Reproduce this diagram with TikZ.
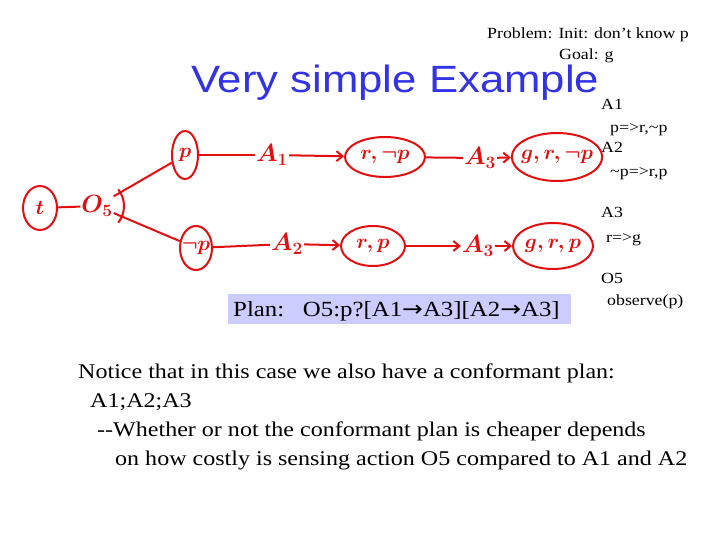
\documentclass[tikz,border=0pt]{standalone}
\usepackage{fontspec}
\setmainfont[FakeStretch=1.15]{Liberation Serif}
\newfontfamily\titlefont[FakeStretch=1.15]{Liberation Sans}
\newfontfamily\arrowfont[FakeStretch=1.15]{DejaVu Sans}
\usepackage{amssymb}
\usetikzlibrary{shapes.geometric,arrows.meta}
\definecolor{inkred}{RGB}{225,15,15}
\definecolor{titleblue}{RGB}{51,51,230}
\definecolor{planbg}{RGB}{204,204,255}

\begin{document}
\begin{tikzpicture}[x=1pt,y=-1pt,
		ink/.style={draw=inkred, line width=2pt},
		state/.style={ellipse, ink, text=inkred, inner sep=-4pt, font=\boldmath\fontsize{20}{20}\selectfont},
		act/.style={text=inkred, inner sep=1pt, font=\boldmath\fontsize{23}{23}\selectfont},
		txt/.style={anchor=base west, inner sep=0pt, font=\fontsize{15.5}{18}\selectfont},
		big/.style={anchor=base west, inner sep=0pt, font=\fontsize{20.9}{24}\selectfont},
		go/.style={ink, -{Straight Barb[length=6pt,width=10pt]}}]
		\useasboundingbox (0,0) rectangle (720,540);
		% title and problem
		\node[txt] (prob) at (487,39) {Problem: Init: don't know p};
		\node[txt] (goal) at (559,60) {Goal: g};
		\node[anchor=base west, inner sep=0pt, text=titleblue, font=\titlefont\fontsize{38}{38}\selectfont] (title) at (191,93) {Very simple Example};
		% actions
		\node[txt] (a1t) at (601,110) {A1};
		\node[txt] (a1d) at (610,133) {p=>r,\textasciitilde p};
		\node[txt] (a2t) at (601,153) {A2};
		\node[txt] (a2d) at (610,177) {\textasciitilde p=>r,p};
		\node[txt] (a3t) at (601,218) {A3};
		\node[txt] (a3d) at (606,242) {r=>g};
		\node[txt] (o5t) at (601,283) {O5};
		\node[txt] (o5d) at (607,305) {observe(p)};
		% the tree
		\node[state, minimum width=34, minimum height=44] (t) at (40,208) {$t$};
		\node[act] (o5) at (97,206) {$O_5$};
		\node[state, minimum width=26, minimum height=48] (p) at (185,155) {$p$};
		\node[state, minimum width=32, minimum height=44] (np) at (196,248) {$\neg p$};
		\node[act] (a1) at (272,155) {$A_1$};
		\node[state, minimum width=80, minimum height=40] (rnp) at (385,157) {$r,\neg p$};
		\node[act] (a3u) at (480,158) {$A_3$};
		\node[state, minimum width=76, minimum height=48] (grnp) at (557,157) {$g,r,\neg p$};
		\node[act] (a2) at (287,244) {$A_2$};
		\node[state, minimum width=64, minimum height=40] (rp) at (373,246) {$r,p$};
		\node[act] (a3l) at (478,246) {$A_3$};
		\node[state, minimum width=80, minimum height=46] (grp) at (553,246) {$g,r,p$};
		\draw[ink] (t) -- (o5);
		\draw[ink] (o5) -- (p);
		\draw[ink] (o5) -- (np);
		\draw[ink] (o5.center) ++(38:27) arc[start angle=38, end angle=-38, radius=27];
		\draw[ink] (p) -- (a1);
		\draw[go] (a1) -- (rnp);
		\draw[ink] (rnp) -- (a3u);
		\draw[go] (a3u) -- (grnp);
		\draw[ink] (np) -- (a2);
		\draw[go] (a2) -- (rp);
		\draw[go] (rp) -- (a3l);
		\draw[go] (a3l) -- (grp);
		% plan
		\node[fill=planbg, anchor=north west, minimum width=343, minimum height=30, inner sep=0pt] (plan) at (228,294) {};
		\node[anchor=base west, inner sep=0pt, font=\fontsize{21.6}{24}\selectfont] (plantxt) at (233,316) {Plan:\ \ \ O5:p?[A1{\arrowfont →}A3][A2{\arrowfont →}A3]};
		% notice
		\node[big] (n1) at (78,378) {Notice that in this case we also have a conformant plan:};
		\node[big] (n2) at (90,407) {A1;A2;A3};
		\node[big] (n3) at (97,436) {-{}-Whether or not the conformant plan is cheaper depends};
		\node[big] (n4) at (115,465) {on how costly is sensing action O5 compared to A1 and A2};
\end{tikzpicture}
\end{document}
